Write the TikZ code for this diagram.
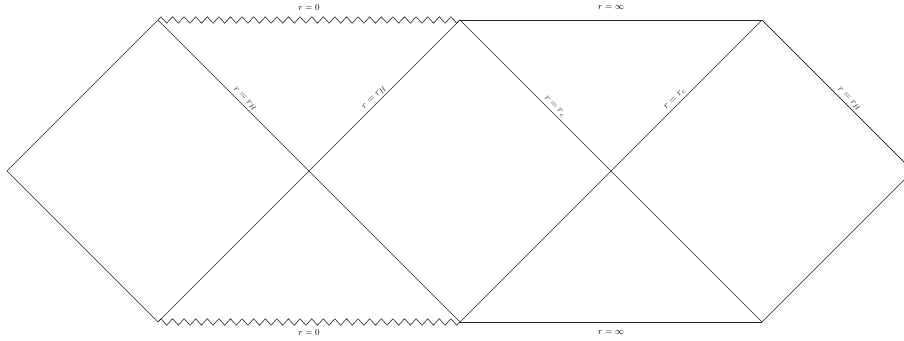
\documentclass[tikz,border=0pt]{standalone}
\usetikzlibrary{decorations.pathmorphing}
\begin{document}
\begin{tikzpicture}[x=1pt,y=-1pt,
  edge/.style={line width=0.6pt, black!85},
  sing/.style={edge, decorate, decoration={zigzag, amplitude=3.2pt, segment length=11.6pt}},
  lab/.style={font=\small, inner sep=2pt},
  dlab/.style={font=\normalsize, inner sep=2.5pt, sloped, above}]
\clip (0,0) rectangle (904,340);
\coordinate (L) at (7,171);
\coordinate (T1) at (158,20);
\coordinate (B1) at (158,322);
\coordinate (C1) at (309,171);
\coordinate (T2) at (460,20);
\coordinate (B2) at (460,322);
\coordinate (C2) at (611,171);
\coordinate (T3) at (762,20);
\coordinate (B3) at (762,322);
\coordinate (R) at (913,171);
% outer edges
\draw[edge] (B1) -- (L) -- (T1);
\draw[edge] (T3) -- (R) -- (B3);
% diagonals
\draw[edge] (T1) -- node[dlab, pos=0.55] {$r=r_H$} (C1);
\draw[edge] (C1) -- (B2);
\draw[edge] (B1) -- (C1);
\draw[edge] (C1) -- node[dlab, pos=0.46] {$r=r_H$} (T2);
\draw[edge] (T2) -- node[dlab, pos=0.6] {$r=r_c$} (C2);
\draw[edge] (C2) -- (B3);
\draw[edge] (B2) -- (C2);
\draw[edge] (C2) -- node[dlab, pos=0.45] {$r=r_c$} (T3);
\draw[edge] (T3) -- node[dlab, pos=0.55] {$r=r_H$} (R);
% horizontal boundaries
\draw[sing] (T1) -- (T2);
\draw[sing] (B1) -- (B2);
\draw[edge] (T2) -- (T3);
\draw[edge] (B2) -- (B3);
% labels
\node[lab] (top0) at (309,8) {$r=0$};
\node[lab] (topinf) at (611,8) {$r=\infty$};
\node[lab] (bot0) at (309,333) {$r=0$};
\node[lab] (botinf) at (611,333) {$r=\infty$};
\end{tikzpicture}
\end{document}
